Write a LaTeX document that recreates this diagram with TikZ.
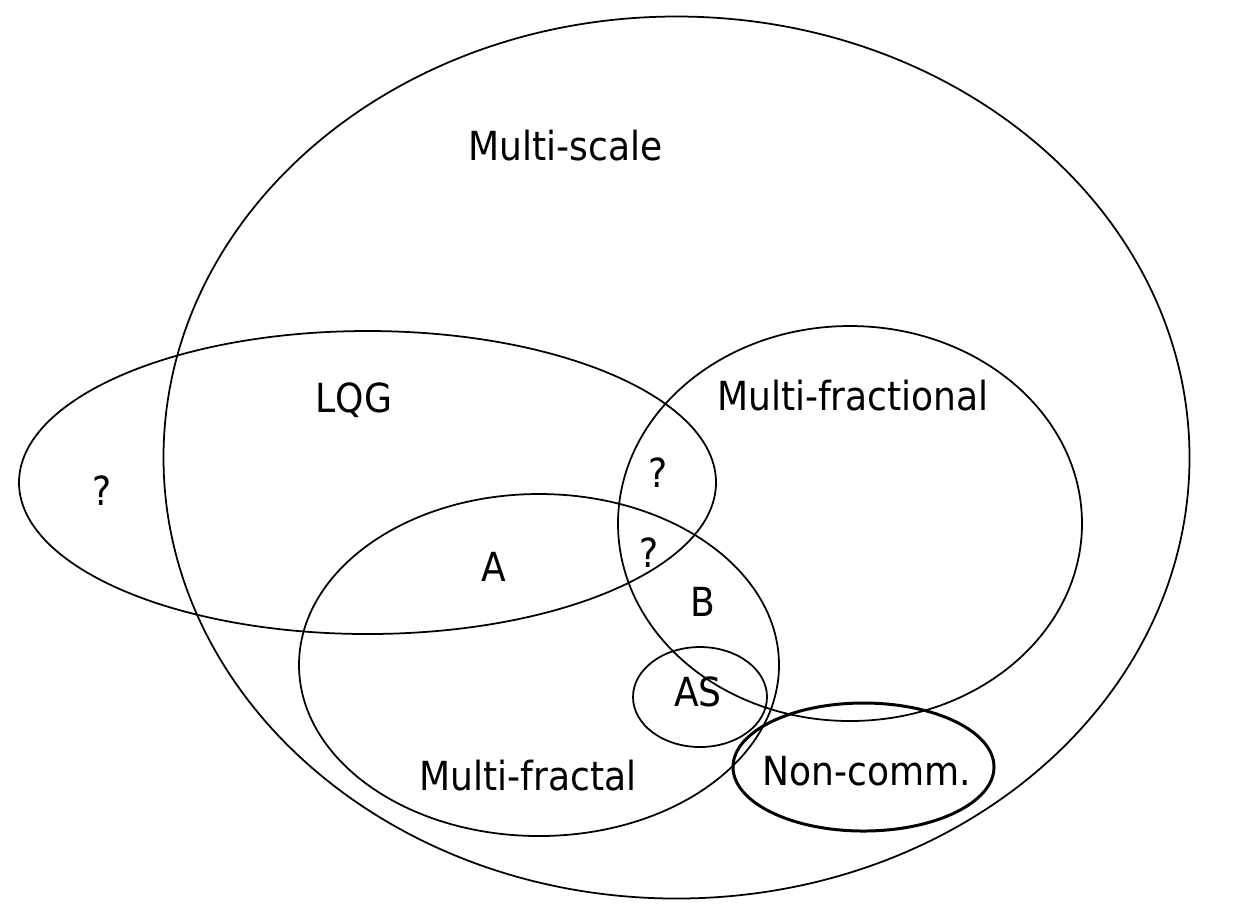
\documentclass[tikz,border=0pt]{standalone}
\usepackage{fontspec}
\setmainfont{DejaVu Sans Condensed}
\usepackage{tikz}
\usetikzlibrary{positioning}
\tikzset{
	setline/.style ={draw=black, line width=0.5pt},
	setthick/.style={draw=black, line width=0.85pt},
	lbl/.style     ={anchor=base, inner sep=0pt, font=\fontsize{11.4}{13}\selectfont},
}
\begin{document}
\begin{tikzpicture}
	\useasboundingbox[fill=white] (0,0) rectangle (12.33,-9.11);
	% the sets
	\draw[setline] (6.765,-4.575) ellipse [x radius=5.13, y radius=4.41];
	\draw[setline] (3.675,-4.825) ellipse [x radius=3.485, y radius=1.515];
	\draw[setline] (8.50,-5.235) ellipse [x radius=2.32, y radius=1.975];
	\draw[setline] (5.39,-6.65) ellipse [x radius=2.40, y radius=1.71];
	\draw[setline] (7.00,-6.97) ellipse [x radius=0.67, y radius=0.50];
	\draw[setthick] (8.635,-7.67) ellipse [x radius=1.305, y radius=0.64];
	% labels
	\node[lbl] (tScale) at (5.655,-1.60) {Multi-scale};
	\node[lbl] (tLQG) at (3.54,-4.12) {LQG};
	\node[lbl] (tFrac) at (8.53,-4.10) {Multi-fractional};
	\node[lbl] (qLeft) at (1.02,-5.05) {?};
	\node[lbl] (qUp) at (6.58,-4.87) {?};
	\node[lbl] (qDown) at (6.49,-5.67) {?};
	\node[lbl] (tA) at (4.94,-5.81) {A};
	\node[lbl] (tB) at (7.03,-6.16) {B};
	\node[lbl] (tAS) at (6.98,-7.06) {AS};
	\node[lbl] (tFractal) at (5.28,-7.90) {Multi-fractal};
	\node[lbl] (tNC) at (8.67,-7.85) {Non-comm.};
\end{tikzpicture}
\end{document}
